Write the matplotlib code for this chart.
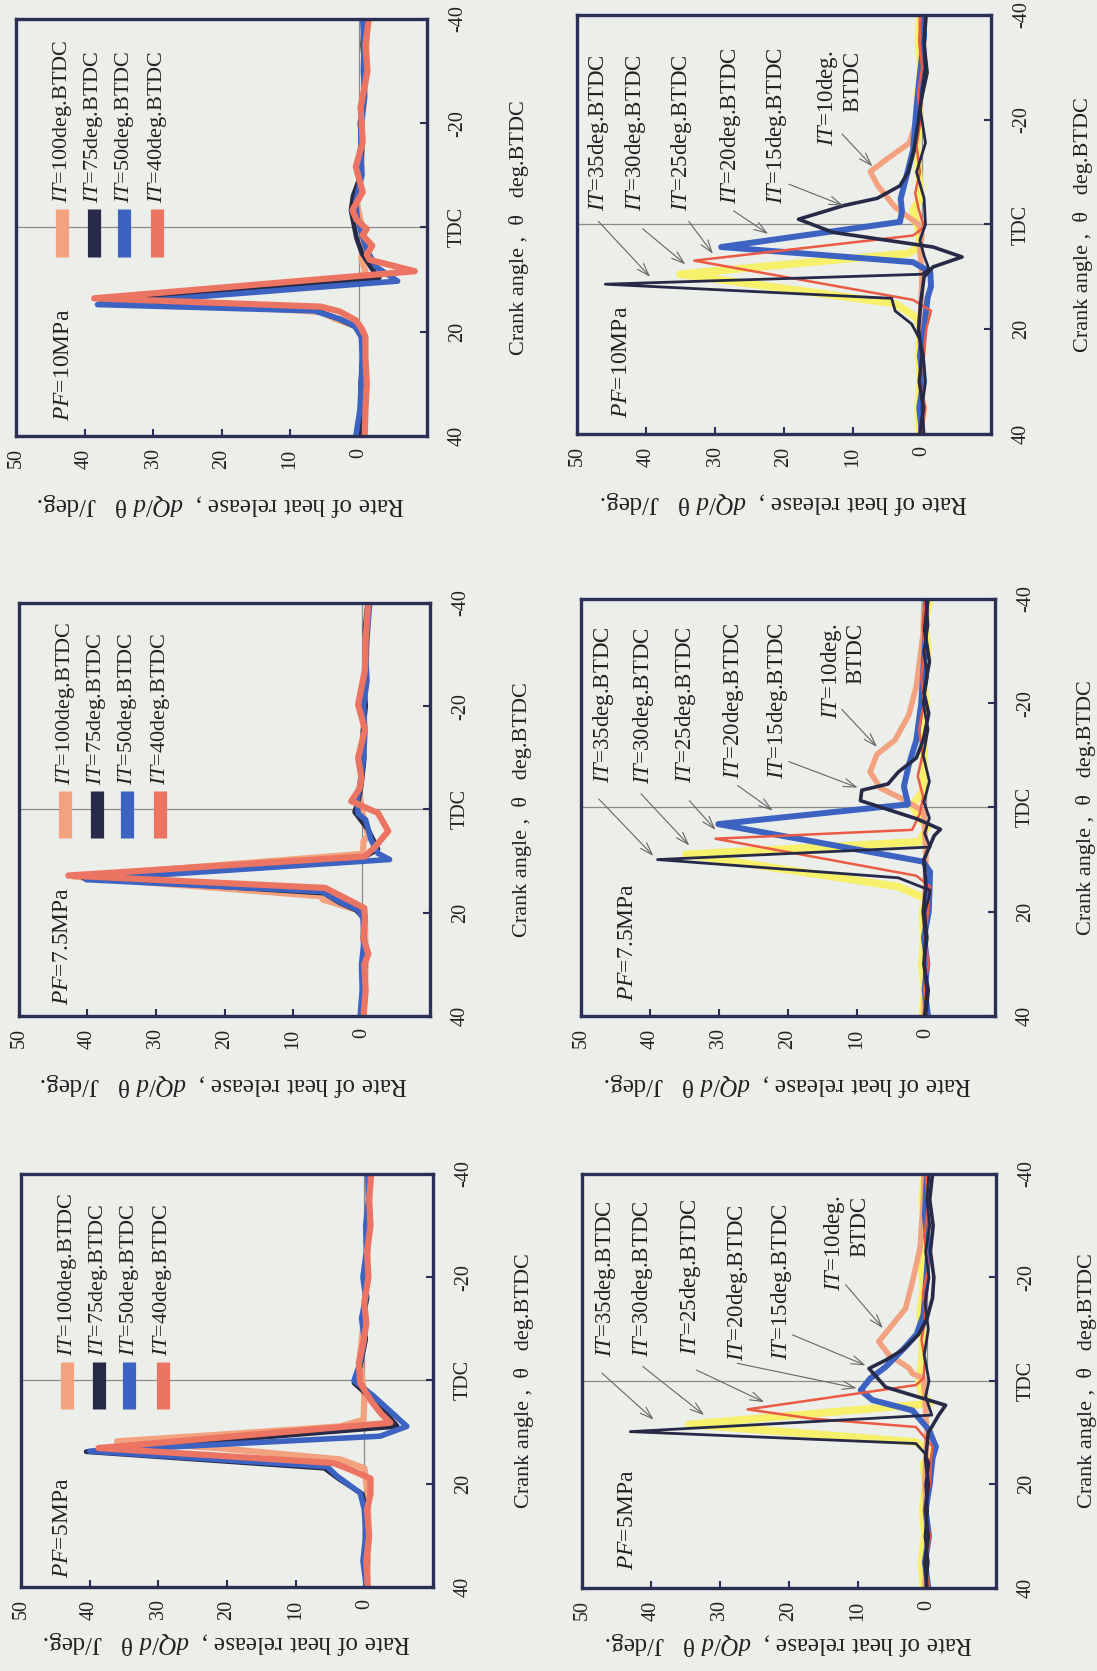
import matplotlib.pyplot as plt
from matplotlib.lines import Line2D

plt.rcParams['font.family'] = ['Liberation Serif', 'DejaVu Serif']
plt.rcParams['mathtext.fontset'] = 'custom'
plt.rcParams['mathtext.it'] = 'Liberation Serif:italic'
plt.rcParams['mathtext.rm'] = 'Liberation Serif'

# each curve: (crank angle deg.BTDC, rate of heat release J/deg)
# --- upper group, IT = 100 / 75 / 50 / 40 deg.BTDC ---
pf10_it100 = [(40, -0.6), (30, -0.9), (22, -0.8), (19, 0.3), (17.5, 3.5), (16.2, 5.5), (13.8, 37.2),
              (9.5, -0.5), (8.3, -1.0), (6, -0.4), (3, -0.8), (0, -0.5), (-5, 0.3), (-10, -0.4),
              (-20, -0.5), (-30, -1.1), (-40, -1.2)]
pf10_it75 = [(40, -0.2), (35, -0.5), (30, -0.3), (25, -0.6), (21, -0.5), (19, 0.6), (17.5, 3.0), (16.5, 5.0),
             (15.5, 6.5), (14.2, 37.6), (9.7, -3.0), (8, -2.0), (5, -0.5), (2, 0.3), (-3.3, 1.1), (-6, 0.8),
             (-10, -0.3), (-15, -0.5), (-20, -0.2), (-25, -0.7), (-30, -0.9), (-35, -0.6), (-40, -0.8)]
pf10_it50 = [(40, 0.4), (35, -0.2), (30, -0.4), (25, -0.6), (21, -0.4), (19, 0.5), (17.7, 2.4), (16.9, 4.3),
             (16.0, 6.5), (14.8, 38.1), (10.3, -5.7), (7.5, -2.5), (4.0, -1.1), (1.0, -0.4), (-2, 0.2),
             (-5, 0.4), (-10, -0.5), (-15, -0.3), (-20, -0.4), (-25, -0.9), (-30, -0.7), (-35, -0.8), (-40, -0.6)]
pf10_it40 = [(40, -0.9), (35, -1.0), (30, -1.2), (25, -1.0), (21, -1.0), (19.5, -0.5), (17.8, 0.4), (16.1, 2.8),
             (15.2, 5.5), (13.6, 38.6), (8.4, -8.2), (6.2, -1.6), (5.2, -1.2), (3.5, -2.0), (1.5, -0.6),
             (0.3, -1.2), (-1.5, 0.3), (-3.3, 0.9), (-6.8, -0.6), (-11.6, 0.4), (-16.4, -0.6), (-23, -0.3),
             (-30, -1.3), (-35, -1.0), (-40, -1.5)]

pf75_it100 = [(40, -0.3), (30, -0.6), (21, -0.5), (19.5, 0.5), (17.5, 5.6), (16.8, 6.0), (13.0, 42.0),
              (8.6, -0.2), (6.1, -0.3), (5, -1.0), (2, -0.3), (-3, 0.3), (-10, -0.2), (-20, -0.4),
              (-30, -0.7), (-40, -1.0)]
pf75_it75 = [(40, 0.0), (35, -0.3), (30, -0.5), (25, -0.2), (21, -0.3), (19.5, 0.8), (18, 3.3), (16.2, 5.5),
             (13.3, 40.6), (9.4, -0.2), (7.7, -2.4), (4, -1.0), (0.5, 1.0), (-2, 0.4), (-5, 0.0), (-10, -0.4),
             (-15, -0.2), (-20, -0.6), (-25, -0.3), (-30, -0.7), (-35, -0.5), (-40, -0.9)]
pf75_it50 = [(40, 0.2), (35, -0.1), (30, 0.0), (25, -0.4), (21, -0.2), (19.5, 0.5), (18.0, 3.0), (15.9, 5.8),
             (13.6, 40.2), (9.7, -4.1), (8.5, -2.4), (5.9, -1.4), (2, -0.6), (0.8, 0.5), (-2, 0.6), (-5, 0.2),
             (-10, -0.3), (-15, -0.5), (-20, -0.3), (-25, -0.8), (-30, -0.6), (-35, -0.9), (-40, -1.2)]
pf75_it40 = [(40, -0.3), (35, -0.6), (30, -0.4), (28, -1.0), (25, -0.3), (21, -0.5), (19.1, -0.4), (17.5, 1.9),
             (15.2, 5.3), (12.8, 42.8), (9.1, -0.5), (7.2, -2.0), (4.2, -3.9), (0.7, -2.4), (-1.6, 1.5),
             (-4, 0.3), (-6, 0.0), (-10, 0.5), (-15.5, -0.5), (-20.3, 0.5), (-27, -0.5), (-33, -0.6), (-40, -1.0)]

pf5_it100 = [(40, -0.4), (30, -0.6), (22, -0.5), (17, 0.0), (15.3, 3.5), (13.1, 21.4), (11.8, 36.0),
             (10.5, 21.0), (8.9, 3.5), (7.6, 0.1), (3.1, 0.0), (0, 0.3), (-5, 0.6), (-10, 0.2), (-20, -0.3),
             (-30, -0.6), (-40, -0.8)]
pf5_it75 = [(40, -0.2), (35, -0.4), (30, -0.1), (25, -0.3), (22, 0.3), (19, 3.8), (17, 5.8), (13.8, 40.5),
            (8.9, -4.8), (5.0, -2.3), (0.5, 1.5), (-2.7, 0.6), (-8, -0.2), (-12, 0.2), (-16, -0.4), (-20, 0.0),
            (-25, -0.5), (-30, -0.3), (-35, -0.7), (-40, -0.6)]
pf5_it50 = [(40, -0.3), (35, 0.2), (30, -0.2), (25, 0.0), (21.8, 0.6), (18.5, 4.0), (16.7, 5.4), (13.7, 40.0),
            (10.8, -2.3), (8.9, -6.2), (3.1, -1.4), (0, 1.5), (-3.4, 0.6), (-8, 0.0), (-12, 0.4), (-16, -0.2),
            (-20, 0.2), (-25, -0.3), (-30, -0.2), (-35, -0.6), (-40, -0.5)]
pf5_it40 = [(40, -0.5), (35, -0.3), (30, -0.7), (25, -0.4), (22, -0.9), (19, -0.9), (17.3, 2.0), (16.0, 4.5),
            (13.1, 38.7), (8.2, -3.8), (6.5, -2.5), (4, -1.0), (0.5, 0.6), (-3.4, 0.8), (-7, 0.2), (-11, -0.3),
            (-15, 0.0), (-20, -0.6), (-25, -0.4), (-30, -0.9), (-35, -0.7), (-40, -1.0)]

# --- lower group, IT = 35 / 30 / 25 / 20 / 15 / 10 deg.BTDC ---
pf10_it35 = [(40, -0.3), (35, 0.0), (30, -0.5), (25, -0.2), (22, 0.3), (19, 1.5), (16.5, 3.9), (14.1, 4.4),
             (11.4, 45.9), (9.5, 0.0), (8.5, -1.0), (6, -0.3), (3, 0.3), (0, -0.5), (-5, -0.3), (-10, 0.8),
             (-15.6, -0.5), (-22.4, 0.3), (-29, -0.8), (-35, -0.3), (-40, -0.5)]
pf10_it30 = [(40, 0.3), (35, 0.6), (30, 0.2), (25, 0.5), (20, 0.2), (17.8, 0.8), (15.1, 3.9), (9.5, 35.1),
             (5.5, 2.0), (4.2, 0.3), (1, 0.5), (-2.7, 1.3), (-5, 0.2), (-10, 0.5), (-15, 0.8), (-20, 0.3),
             (-25, 0.6), (-30, 0.2), (-35, 0.5), (-40, 0.3)]
pf10_it25 = [(40, 0.0), (35, -0.5), (30, 0.3), (25, -0.3), (20, -0.6), (16.5, -1.3), (14.4, 1.3), (6.9, 33.0),
             (2.1, 1.3), (0.5, -0.3), (-3, 0.5), (-6, 1.0), (-10, 0.3), (-15, 0.8), (-20, 0.2), (-25, 0.6),
             (-30, 0.0), (-35, 0.4), (-40, 0.2)]
pf10_it20 = [(40, 0.0), (35, 0.4), (30, -0.2), (25, 0.3), (20, -0.3), (14, -0.8), (11.8, -1.3), (9.1, -1.2),
             (7.2, 1.3), (4.3, 29.1), (-0.5, 3.2), (-2.5, 2.9), (-4.9, 3.1), (-9, 2.3), (-14.2, 1.3),
             (-22.4, 0.8), (-30, 0.2), (-36, -0.3), (-40, -0.2)]
pf10_it15 = [(40, 0.3), (35, -0.2), (30, 0.4), (25, 0.0), (20, 0.5), (15, 0.2), (10, -0.3), (8.1, -1.6),
             (6.2, -5.8), (4.3, -1.6), (1.5, 12.9), (-1.0, 17.9), (-3.6, 11.4), (-5, 6.5), (-7.4, 3.2),
             (-10, 2.0), (-14, 1.2), (-20, 0.5), (-25, 0.0), (-30, -0.5), (-35, -0.3), (-40, -0.6)]
pf10_it10 = [(40, 0.2), (30, 0.0), (20, 0.3), (10, 0.0), (5, 0.3), (2, 0.0), (0, 0.5), (-3.3, 3.9), (-7.4, 6.4),
             (-10.1, 7.5), (-12.2, 5.4), (-15.6, 1.8), (-22.4, 0.3), (-30, 0.0), (-40, 0.2)]

pf75_it35 = [(40, 0.0), (35, -0.4), (30, 0.3), (25, -0.2), (20, 0.2), (17.5, -0.4), (15.9, -0.6), (13.5, 4.0),
             (10.0, 38.9), (7.6, -0.6), (5, 0.2), (2, -0.5), (-1, 0.3), (-5, -0.5), (-10, 0.4), (-15, -0.3),
             (-20, 0.4), (-25, -0.2), (-30, 0.3), (-35, -0.3), (-40, 0.0)]
pf75_it30 = [(40, 0.5), (35, 0.2), (30, 0.6), (25, 0.3), (20, 0.5), (17.6, -0.1), (15.2, 4.0), (9.0, 34.8),
             (6.6, 0.9), (3.9, -0.1), (-0.3, 2.0), (-3, 0.5), (-8, 0.2), (-15, 0.6), (-20, 0.0), (-25, 0.4),
             (-30, -0.3), (-35, 0.2), (-40, -0.5)]
pf75_it25 = [(40, -0.2), (35, 0.3), (30, -0.4), (25, 0.2), (20, -0.3), (15.2, -0.6), (13.1, 1.4), (6.0, 30.5),
             (4.3, 2.0), (1.2, 0.9), (-2, 0.4), (-6, 1.2), (-10, 0.5), (-15, 1.0), (-20, 0.3), (-25, 0.7),
             (-30, 0.2), (-35, 0.5), (-40, 0.1)]
pf75_it20 = [(40, -0.3), (35, 0.2), (30, -0.2), (25, 0.3), (20, -0.4), (12.4, -0.6), (10.4, 0.4), (3.2, 30.1),
             (-0.6, 2.6), (-4.0, 3.2), (-8.1, 2.5), (-12.9, 1.4), (-19.8, 0.7), (-30, 0.2), (-40, 0.0)]
pf75_it15 = [(40, 0.2), (35, -0.2), (30, 0.3), (25, 0.0), (20, 0.4), (15, 0.0), (10, 0.3), (5.4, -1.2),
             (4.2, -2.1), (2.2, 1.3), (-1.3, 9.5), (-3.3, 9.3), (-4.5, 5.5), (-6.8, 4.0), (-9.5, 1.4),
             (-12.9, 0.4), (-18, -0.4), (-22, 0.3), (-28, -0.5), (-34, 0.2), (-40, -0.3)]
pf75_it10 = [(40, 0.3), (30, 0.0), (20, 0.2), (10, 0.0), (3, 0.2), (0.7, 0.4), (-1.7, 3.5), (-3.7, 6.6),
             (-6.8, 8.1), (-10.2, 7.1), (-12.9, 4.5), (-17.7, 2.5), (-23.2, 1.4), (-33.5, 0.4), (-40, 0.3)]

pf5_it35 = [(40, 0.2), (35, -0.2), (30, 0.3), (25, -0.1), (20, 0.2), (16, -0.3), (14.0, 0.3), (12.1, 1.6),
            (9.8, 43.0), (6.6, -0.7), (3, 0.2), (0, -0.3), (-5, 0.4), (-10, -0.2), (-15, 0.3), (-20, -0.3),
            (-25, 0.2), (-30, -0.4), (-35, 0.0), (-40, -0.3)]
pf5_it30 = [(40, 0.5), (35, 0.8), (30, 0.3), (25, 0.6), (20, 0.2), (16, 0.5), (14.3, -0.8), (11.8, 1.6),
            (8.4, 34.5), (4.4, -0.3), (2, 0.8), (0.3, 1.2), (-3, 0.8), (-8, 0.6), (-13, 1.0), (-18, 0.5),
            (-24, 0.9), (-30, 0.4), (-35, 0.7), (-40, 0.3)]
pf5_it25 = [(40, -0.3), (35, 0.3), (30, -0.5), (25, 0.4), (20, -0.4), (15, -0.6), (12.7, -0.8), (8.9, 1.6),
            (7.3, 16.6), (5.5, 26.0), (0.8, 1.6), (-0.5, 0.5), (-4, 0.3), (-8, 0.8), (-12, 0.2), (-17, 0.6),
            (-22, -0.2), (-28, 0.4), (-34, -0.2), (-40, 0.2)]
pf5_it20 = [(40, -0.2), (35, 0.3), (30, -0.3), (25, 0.2), (20, -0.4), (15, -0.8), (12.7, -1.3), (9.5, -0.3),
            (5.7, 2.1), (3.7, 7.9), (1.8, 9.6), (-0.5, 8.2), (-2.7, 6.0), (-6.6, 3.1), (-9, 1.5), (-12.8, 0.5),
            (-18, 0.2), (-25, -0.2), (-32, 0.3), (-40, 0.0)]
pf5_it15 = [(40, 0.0), (35, 0.3), (30, -0.2), (25, 0.2), (20, -0.2), (15, 0.2), (10, -0.2), (6.6, -1.7),
            (4.7, -2.7), (1.2, 6.0), (-2.4, 8.4), (-4, 6.0), (-6, 3.5), (-9, 1.2), (-12, 0.0), (-16, -0.8),
            (-20, -1.0), (-25, -0.5), (-30, -0.9), (-35, -0.4), (-40, -0.8)]
pf5_it10 = [(40, 0.3), (30, 0.0), (20, 0.3), (10, 0.0), (3, 0.3), (-0.5, 0.5), (-1.4, 2.1), (-2.5, 2.6),
            (-5, 5.5), (-7.6, 7.0), (-10.2, 5.4), (-14, 3.1), (-19.2, 2.1), (-25.7, 1.0), (-35.4, 0.5), (-40, 0.4)]

pf_labels = ['10MPa', '7.5MPa', '5MPa']
upper_it = ['100', '75', '50', '40']
lower_it = ['35', '30', '25', '20', '15', '10']

BG = '#eceee9'
SPINE = '#2a2f55'
LIGHT = '#f2a27f'
DARK = '#262a47'
BLUE = '#3d63c2'
SALMON = '#ec7462'
RED = '#ea5a45'
YELLOW = '#f6f06a'

upper_style = [(LIGHT, 4.5), (DARK, 3.5), (BLUE, 4.0), (SALMON, 4.5)]
lower_style = [(DARK, 2.0), (YELLOW, 5.5), (RED, 1.8), (BLUE, 4.3), (DARK, 2.6), (LIGHT, 4.0)]
lower_z = [2.6, 2.0, 2.3, 2.2, 2.5, 2.1]

RATE_LABEL = r'Rate of heat release ,  $\mathit{dQ/d}$ θ   J/deg.'
CRANK_LABEL = 'Crank angle ,  θ   deg.BTDC'

fig = plt.figure(figsize=(10.97, 16.71), dpi=100, facecolor=BG)

# axes boxes [left, bottom, width, height] in figure fraction
pos_upper = [[0.0146, 0.7391, 0.3747, 0.2496], [0.0173, 0.3920, 0.3747, 0.2472], [0.0191, 0.0503, 0.3756, 0.2472]]
pos_lower = [[0.5260, 0.7403, 0.3774, 0.2507], [0.5296, 0.3920, 0.3774, 0.2496], [0.5305, 0.0497, 0.3774, 0.2478]]
xlabel_pad = [16, 16, 7]


def setup(ax, xpad):
    ax.set_facecolor(BG)
    ax.set_xlim(50, -10)
    ax.set_ylim(40, -40)
    ax.axvline(0, color='#8c8c8c', lw=0.9, zorder=1)
    ax.axhline(0, color='#8c8c8c', lw=0.9, zorder=1)
    ax.set_xticks([50, 40, 30, 20, 10, 0])
    ax.set_xticklabels(['50', '40', '30', '20', '10', '0'], rotation=90)
    ax.yaxis.tick_right()
    ax.yaxis.set_label_position('right')
    ax.set_yticks([40, 20, 0, -20, -40])
    ax.set_yticklabels(['40', '20', 'TDC', '-20', '-40'], rotation=90, va='center')
    ax.tick_params(direction='in', length=5, width=1.5, color=SPINE, labelsize=14.5, labelcolor='#222222')
    ax.tick_params(axis='x', pad=9)
    ax.tick_params(axis='y', pad=15)
    for s in ax.spines.values():
        s.set_color(SPINE)
        s.set_linewidth(2.4)
    ax.set_xlabel(RATE_LABEL, rotation=180, fontsize=18, labelpad=xpad, color='#222222')
    ax.set_ylabel(CRANK_LABEL, rotation=90, fontsize=16, labelpad=30, color='#222222')


def draw(ax, curve, color, lw, z):
    ca = [p[0] for p in curve]
    q = [p[1] for p in curve]
    ax.plot(q, ca, color=color, lw=lw, zorder=z, solid_joinstyle='round')


# upper group
upper_data = [[pf10_it100, pf10_it75, pf10_it50, pf10_it40],
              [pf75_it100, pf75_it75, pf75_it50, pf75_it40],
              [pf5_it100, pf5_it75, pf5_it50, pf5_it40]]
pf_pos_upper = [(43.0, 37.1), (43.6, 37.8), (44.0, 38.3)]
leg_x = [0.112, 0.189, 0.263, 0.344]

for r in range(3):
    ax = fig.add_axes(pos_upper[r])
    setup(ax, xlabel_pad[r])
    for k, curve in enumerate(upper_data[r]):
        draw(ax, curve, upper_style[k][0], upper_style[k][1], 2 + k * 0.1)
    for k, it in enumerate(upper_it):
        ax.add_line(Line2D([leg_x[k], leg_x[k]], [0.43, 0.545], transform=ax.transAxes,
                           color=upper_style[k][0], lw=9.5, solid_capstyle='butt'))
        ax.text(leg_x[k], 0.558, r'$\mathit{IT}$=' + it + 'deg.BTDC', transform=ax.transAxes,
                rotation=90, rotation_mode='anchor', ha='left', va='center', fontsize=16, color='#222222')
    ax.text(pf_pos_upper[r][0], pf_pos_upper[r][1], r'$\mathit{PF}$=' + pf_labels[r],
            rotation=90, rotation_mode='anchor', ha='left', va='center', fontsize=17, color='#222222')

# lower group
lower_data = [[pf10_it35, pf10_it30, pf10_it25, pf10_it20, pf10_it15, pf10_it10],
              [pf75_it35, pf75_it30, pf75_it25, pf75_it20, pf75_it15, pf75_it10],
              [pf5_it35, pf5_it30, pf5_it25, pf5_it20, pf5_it15, pf5_it10]]
pf_pos_lower = [(43.6, 37.0), (43.3, 37.1), (43.4, 36.6)]
# label anchors (rate, crank where the text starts)
lab_pos = [[(46.9, -2.6), (41.5, -2.6), (34.8, -2.6), (27.8, -4.0), (21.1, -4.0), (12.0, -14.9)],
           [(46.7, -4.7), (41.0, -4.4), (34.8, -4.7), (27.9, -5.4), (21.5, -5.4), (12.1, -17.0)],
           [(46.6, -4.7), (41.2, -4.7), (34.2, -5.0), (27.5, -3.8), (21.1, -4.0), (11.7, -17.3)]]
arrow_tail = [[(46.9, -0.6), (40.5, 0.8), (33.8, -0.6), (27.3, -2.6), (19.3, -7.7), (11.6, -17.3)],
              [(47.4, -1.6), (41.3, -2.6), (34.3, -1.3), (27.3, -4.2), (19.9, -8.8), (12.2, -18.8)],
              [(47.1, -1.5), (41.2, -2.8), (33.4, -2.1), (27.5, -3.4), (19.5, -8.9), (11.8, -18.6)]]
arrow_head = [[(39.4, 10.0), (34.3, 7.6), (30.3, 5.6), (22.3, 1.8), (11.4, -3.6), (7.2, -11.1)],
              [(39.5, 9.3), (34.3, 7.3), (30.5, 4.3), (22.2, 0.6), (9.9, -3.8), (7.1, -11.6)],
              [(39.6, 7.5), (32.3, 6.6), (23.6, 4.1), (10.2, 1.4), (8.9, -3.0), (6.4, -10.2)]]

for r in range(3):
    ax = fig.add_axes(pos_lower[r])
    setup(ax, xlabel_pad[r])
    for k, curve in enumerate(lower_data[r]):
        draw(ax, curve, lower_style[k][0], lower_style[k][1], lower_z[k])
    for k, it in enumerate(lower_it):
        if it == '10':
            txt = r'$\mathit{IT}$=10deg.' + '\nBTDC'
        else:
            txt = r'$\mathit{IT}$=' + it + 'deg.BTDC'
        ax.text(lab_pos[r][k][0], lab_pos[r][k][1], txt, rotation=90, rotation_mode='anchor',
                ha='left', va='center', multialignment='right', fontsize=16.5, color='#222222',
                linespacing=1.1)
        ax.annotate('', xy=arrow_head[r][k], xytext=arrow_tail[r][k],
                    arrowprops=dict(arrowstyle='->,head_length=0.9,head_width=0.3', color='#666666',
                                    lw=0.8, shrinkA=0, shrinkB=0), zorder=5)
    ax.text(pf_pos_lower[r][0], pf_pos_lower[r][1], r'$\mathit{PF}$=' + pf_labels[r],
            rotation=90, rotation_mode='anchor', ha='left', va='center', fontsize=17, color='#222222')

fig.savefig('out.png', dpi=100, facecolor=BG)
